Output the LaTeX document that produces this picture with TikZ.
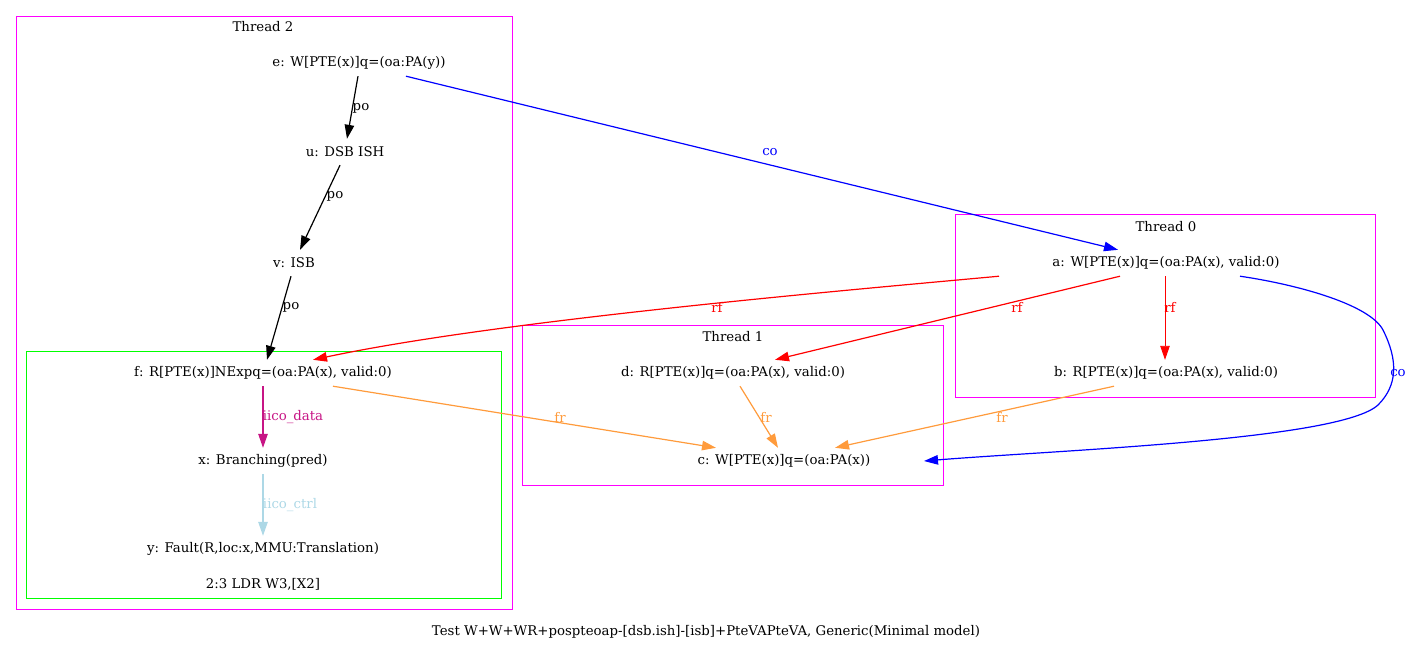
\documentclass[tikz,border=0pt]{standalone}
\usepackage{fontspec}
\setmainfont{DejaVu Serif}
\usetikzlibrary{arrows.meta}
\definecolor{frc}{RGB}{255,155,60}
\definecolor{mvr}{RGB}{199,21,133}
\definecolor{lbl}{RGB}{173,216,230}
\definecolor{clm}{RGB}{255,0,255}
\definecolor{clg}{RGB}{0,255,0}
\begin{document}
\begin{tikzpicture}[x=1pt,y=-1pt,
  font=\fontsize{13.3}{16}\selectfont,
  ev/.style={inner sep=0pt, minimum height=26pt},
  arr/.style={line width=1.2pt, -{Triangle[length=14pt,width=9.5pt]}},
  lab/.style={inner sep=0pt},
  clus/.style={draw=clm, line width=1pt},
  inner/.style={draw=clg, line width=1pt}]
\useasboundingbox (0,0) rectangle (1413,651);
% clusters
\draw[clus] (16,16) rectangle (512,609);
\node[lab] (t2) at (263,27) {Thread 2};
\draw[inner] (26,351) rectangle (501,598);
\node[lab] (ldr) at (263,584) {2:3 LDR W3,[X2]};
\draw[clus] (955,214) rectangle (1375,397);
\node[lab] (t0) at (1166,227) {Thread 0};
\draw[clus] (522,325) rectangle (943,485);
\node[lab] (t1) at (733,337) {Thread 1};
% nodes
\node[ev] (e) at (359,63) {e: W[PTE(x)]q=(oa:PA(y))};
\node[ev] (u) at (345,152) {u: DSB ISH};
\node[ev] (v) at (294,263) {v: ISB};
\node[ev] (f) at (263,373) {f: R[PTE(x)]NExpq=(oa:PA(x), valid:0)};
\node[ev] (x) at (263,461) {x: Branching(pred)};
\node[ev] (y) at (263,549) {y: Fault(R,loc:x,MMU:Translation)};
\node[ev] (a) at (1166,263) {a: W[PTE(x)]q=(oa:PA(x), valid:0)};
\node[ev] (b) at (1166,373) {b: R[PTE(x)]q=(oa:PA(x), valid:0)};
\node[ev] (d) at (733,373) {d: R[PTE(x)]q=(oa:PA(x), valid:0)};
\node[ev] (c) at (784,461) {c: W[PTE(x)]q=(oa:PA(x))};
\node[lab] (cap) at (706,632) {Test W+W+WR+pospteoap-[dsb.ish]-[isb]+PteVAPteVA, Generic(Minimal model)};
% po edges
\draw[arr] ([xshift=-1pt]e.south) -- ([xshift=2pt]u.north) node[lab] at (361,108) {po};
\draw[arr] ([xshift=-5pt]u.south) -- ([xshift=6pt]v.north) node[lab] at (335,196) {po};
\draw[arr] ([xshift=-3pt]v.south) -- ([xshift=4pt]f.north) node[lab] at (291,307) {po};
% co
\draw[arr, blue] ([xshift=47pt]e.south) -- ([xshift=-48pt]a.north) node[lab] at (770,152) {co};
\draw[arr, blue] ([xshift=74pt]a.south) .. controls (1300,285) and (1370,305) .. (1383,330)
  .. controls (1398,360) and (1398,385) .. (1378,405)
  .. controls (1340,440) and (1060,450) .. ([xshift=140pt]c.center);
\node[lab, text=blue] (colab) at (1398,373) {co};
% rf
\draw[arr, red] ([xshift=-167pt]a.south) .. controls (850,290) and (500,320) .. ([xshift=50pt]f.north) node[lab] at (717,307) {rf};
\draw[arr, red] ([xshift=-46pt]a.south) -- ([xshift=42pt]d.north) node[lab] at (1017,307) {rf};
\draw[arr, red, line width=0.9pt] ([xshift=-1pt]a.south) -- ([xshift=-1pt]b.north) node[lab] at (1170,307) {rf};
% iico
\draw[arr, mvr] (f.south) -- (x.north) node[lab] at (293,417) {iico\_data};
\draw[arr, lbl] (x.south) -- (y.north) node[lab] at (290,505) {iico\_ctrl};
% fr
\draw[arr, frc] ([xshift=70pt]f.south) -- ([xshift=-68pt]c.north) node[lab] at (560,417) {fr};
\draw[arr, frc] ([xshift=7pt]d.south) -- ([xshift=-6pt]c.north) node[lab] at (766,417) {fr};
\draw[arr, frc] ([xshift=-52pt]b.south) -- ([xshift=51pt]c.north) node[lab] at (1002,417) {fr};
\end{tikzpicture}
\end{document}
